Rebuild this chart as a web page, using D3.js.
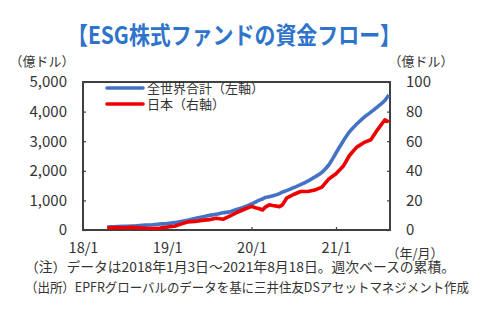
<!DOCTYPE html>
<html><head><meta charset="utf-8">
<script src="https://cdn.jsdelivr.net/npm/d3@7"></script>
<style>
html,body{margin:0;padding:0;background:#fff;}
svg{display:block;font-family:"Noto Sans CJK JP","Noto Sans",sans-serif;}
</style></head>
<body><svg id="c" width="490" height="326"></svg>
<script>
const dates = ["2018-04-16","2018-05-01","2018-06-01","2018-07-01","2018-08-01","2018-09-01","2018-10-01","2018-11-01","2018-12-01",
"2019-01-01","2019-02-01","2019-03-01","2019-04-01","2019-05-01","2019-06-01","2019-07-01","2019-08-01","2019-09-01","2019-10-01","2019-11-01","2019-12-01",
"2020-01-01","2020-01-18","2020-02-01","2020-02-18","2020-03-01","2020-03-18","2020-04-01","2020-05-01","2020-05-14","2020-06-01","2020-07-01","2020-08-01","2020-09-01","2020-10-01","2020-11-01","2020-12-01",
"2021-01-01","2021-02-01","2021-03-01","2021-04-01","2021-05-01","2021-06-01","2021-07-01","2021-08-01","2021-08-18"];
const world = [100,105,115,125,135,150,165,180,200,
220,250,290,330,390,440,490,530,580,620,700,780,
880,940,1000,1050,1100,1120,1150,1230,1280,1330,1430,1530,1650,1790,1950,2200,
2600,3000,3320,3580,3800,3980,4170,4380,4560];
const japan = [1.5,1.5,1.6,1.5,1.8,1.5,1.2,1.0,1.3,
2.0,2.5,4.0,5.5,5.8,6.5,7.0,8.0,7.3,9.5,12,14,
16,15,14.5,13.5,15.5,17,16.5,15.8,17,21.5,24,26,26,27,29,34.5,
38,43,50.5,56,59,61,68,74.5,73];
const xTicks = ["2018-01-01","2019-01-01","2020-01-01","2021-01-01"];
const xTickLabels = ["18/1","19/1","20/1","21/1"];
const leftTicks = [0,1000,2000,3000,4000,5000];
const rightTicks = [0,20,40,60,80,100];
const seriesNames = ["全世界合計（左軸）","日本（右軸）"];
const title = "【ESG株式ファンドの資金フロー】";
const notes = ["（注）データは2018年1月3日～2021年8月18日。週次ベースの累積。","（出所）EPFRグローバルのデータを基に三井住友DSアセットマネジメント作成"];

const parse = d3.timeParse("%Y-%m-%d");
const svg = d3.select("#c");
const L=83, R=390, T=82, B=230;
const x = d3.scaleTime().domain([parse("2018-01-01"), parse("2021-08-23")]).range([L,R]);
const yL = d3.scaleLinear().domain([0,5000]).range([B,T]);
const yR = d3.scaleLinear().domain([0,100]).range([B,T]);
const txt = "#333";

svg.append("text").attr("x",234).attr("y",44).attr("text-anchor","middle")
  .attr("font-size",24).attr("font-weight","bold").attr("fill","#2F74CB")
  .attr("textLength",334).attr("lengthAdjust","spacingAndGlyphs").text(title);

// axes
const gl = svg.append("g").attr("transform",`translate(${L},0)`)
  .call(d3.axisLeft(yL).tickValues(leftTicks).tickSize(-3).tickPadding(16).tickFormat(d3.format(",")));
const gr = svg.append("g").attr("transform",`translate(${R},0)`)
  .call(d3.axisRight(yR).tickValues(rightTicks).tickSize(-3).tickPadding(16));
const gb = svg.append("g").attr("transform",`translate(0,${B})`)
  .call(d3.axisBottom(x).tickValues(xTicks.map(parse)).tickSize(-3).tickPadding(11)
  .tickFormat((d,i)=>xTickLabels[i]));
[gl,gr,gb].forEach(g=>{
  g.select(".domain").remove();
  g.selectAll(".tick line").attr("stroke","#404040").attr("stroke-width",1.2);
  g.selectAll(".tick text").attr("fill",txt).attr("font-size",15).attr("font-family","'Noto Sans CJK JP',sans-serif");
});
gb.selectAll(".tick text").attr("font-size",14.5).attr("dy","0.85em");

// frame
svg.append("rect").attr("x",L).attr("y",T).attr("width",R-L).attr("height",B-T)
  .attr("fill","none").attr("stroke","#404040").attr("stroke-width",2);

svg.append("text").attr("x",42).attr("y",66).attr("text-anchor","middle").attr("font-size",13).attr("fill",txt).text("（億ドル）");
svg.append("text").attr("x",421).attr("y",66).attr("text-anchor","middle").attr("font-size",13).attr("fill",txt).text("（億ドル）");
svg.append("text").attr("x",415).attr("y",258).attr("text-anchor","middle").attr("font-size",13).attr("fill",txt).text("（年/月）");

const pts = dates.map((d,i)=>({d:parse(d), w:world[i], j:japan[i]}));
svg.append("path").datum(pts).attr("fill","none").attr("stroke","#4472C4").attr("stroke-width",3.6)
  .attr("stroke-linejoin","round").attr("d",d3.line().curve(d3.curveMonotoneX).x(p=>x(p.d)).y(p=>yL(p.w)));
svg.append("path").datum(pts).attr("fill","none").attr("stroke","#EE0000").attr("stroke-width",3.6)
  .attr("stroke-linejoin","round").attr("d",d3.line().x(p=>x(p.d)).y(p=>yR(p.j)));

// legend
const lg = [{c:"#4472C4",y:88},{c:"#EE0000",y:104}];
lg.forEach((l,i)=>{
  svg.append("line").attr("x1",107).attr("x2",143).attr("y1",l.y).attr("y2",l.y).attr("stroke",l.c).attr("stroke-width",3.6).attr("stroke-linecap","round");
  svg.append("text").attr("x",147).attr("y",l.y+4.5).attr("font-size",13).attr("fill",txt).text(seriesNames[i]);
});

notes.forEach((n,i)=>{
  svg.append("text").attr("x",25).attr("y",272+i*20).attr("font-size",i===0?13.5:13).attr("fill",txt)
    .attr("textLength", i===0?430:444).attr("lengthAdjust","spacingAndGlyphs").text(n);
});
</script></body></html>
